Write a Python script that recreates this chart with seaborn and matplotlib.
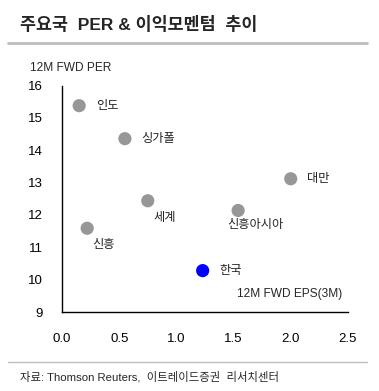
import matplotlib
matplotlib.use("Agg")
import matplotlib.pyplot as plt
import seaborn as sns
import pandas as pd
from matplotlib.lines import Line2D

countries = ["인도", "싱가폴", "세계", "신흥", "대만", "신흥아시아", "한국"]
eps_mom = [0.15, 0.55, 0.75, 0.22, 2.0, 1.54, 1.23]
per = [15.38, 14.36, 12.44, 11.59, 13.12, 12.14, 10.28]
group = ["기타", "기타", "기타", "기타", "기타", "기타", "한국"]
x_ticks = [0.0, 0.5, 1.0, 1.5, 2.0, 2.5]
y_ticks = [9, 10, 11, 12, 13, 14, 15, 16]

sns.set_style("white")
plt.rcParams['font.family'] = ['Liberation Sans', 'Noto Sans CJK KR', 'DejaVu Sans']

df = pd.DataFrame({"country": countries, "eps": eps_mom, "per": per, "group": group})

fig = plt.figure(figsize=(3.79, 3.91), dpi=100)
ax = fig.add_axes([0.1636, 0.202, 0.918 - 0.1636, 0.781 - 0.202])

sns.scatterplot(data=df, x="eps", y="per", hue="group",
                palette={"기타": "#979797", "한국": "#0000FF"},
                s=90, edgecolor="none", legend=False, ax=ax, zorder=3)

# label offsets in points (dx, dy)
offsets = {
    "인도": (12, 0, "left", "center"),
    "싱가폴": (12, 0, "left", "center"),
    "세계": (4, -8, "left", "top"),
    "신흥": (4, -8, "left", "top"),
    "대만": (12, 0, "left", "center"),
    "신흥아시아": (-8, -6, "left", "top"),
    "한국": (12, 0, "left", "center"),
}
for c, xv, yv in zip(countries, eps_mom, per):
    dx, dy, ha, va = offsets[c]
    ax.annotate(c, (xv, yv), xytext=(dx, dy), textcoords="offset points",
                ha=ha, va=va, fontsize=8.8, color="#222222")

ax.set_xlim(0, 2.5)
ax.set_ylim(9, 16)
ax.set_xticks(x_ticks)
ax.set_xticklabels([f"{v:.1f}" for v in x_ticks])
ax.set_yticks(y_ticks)
ax.set_yticklabels([str(v) for v in y_ticks])
ax.tick_params(axis="both", direction="out", length=4, width=1, colors="black",
               labelsize=9.5, pad=4)
ax.tick_params(axis="x", pad=11)
ax.tick_params(axis="y", pad=10)
for s in ["top", "right"]:
    ax.spines[s].set_visible(False)
for s in ["left", "bottom"]:
    ax.spines[s].set_color("black")
    ax.spines[s].set_linewidth(1)
ax.set_xlabel("")
ax.set_ylabel("")

ax.text(2.5 * 0.98, 9.55, "12M FWD EPS(3M)", ha="right", va="center", fontsize=8.6)

fig.text(30 / 379, 1 - 68 / 391, "12M FWD PER", ha="left", va="center", fontsize=8.6)
fig.text(20 / 379, 1 - 25 / 391, "주요국  PER & 이익모멘텀  추이", ha="left", va="center",
         fontsize=12.5, fontweight="bold")
fig.add_artist(Line2D([8 / 379, 367 / 379], [1 - 43 / 391] * 2, color="#BDBDBD", lw=2))
fig.add_artist(Line2D([8 / 379, 367 / 379], [1 - 362 / 391] * 2, color="#BDBDBD", lw=1))
fig.text(20 / 379, 1 - 377 / 391, "자료: Thomson Reuters,  이트레이드증권  리서치센터",
         ha="left", va="center", fontsize=8.2)

fig.savefig("out.png", dpi=100)
